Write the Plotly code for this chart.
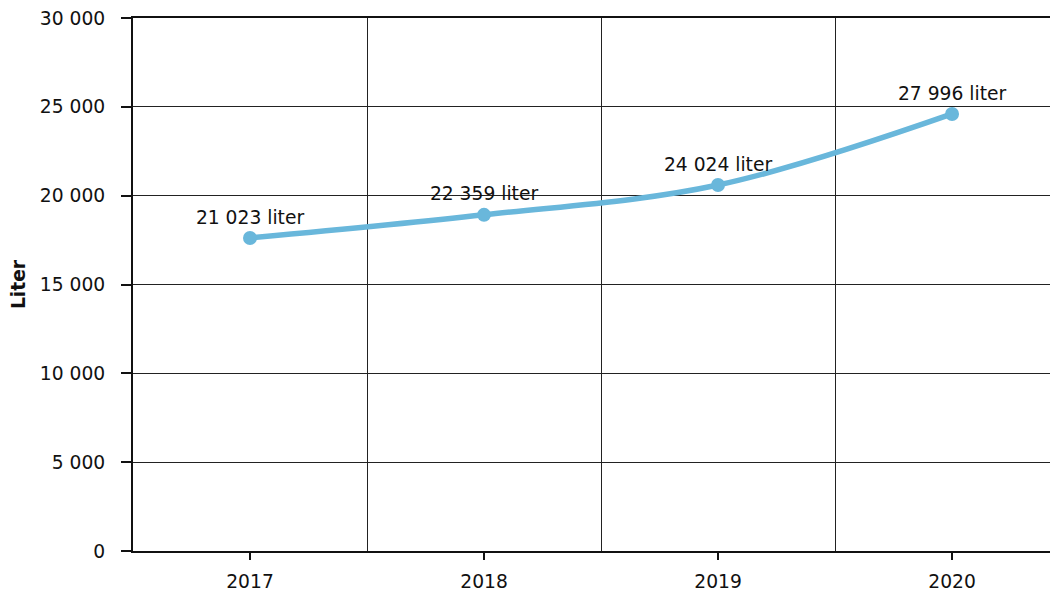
import plotly.graph_objects as go

# values
years = ["2017", "2018", "2019", "2020"]
liters = [17620, 18920, 20600, 24600]
point_labels = ["21 023 liter", "22 359 liter", "24 024 liter", "27 996 liter"]
y_ticks = [0, 5000, 10000, 15000, 20000, 25000, 30000]

line_color = "#69b7db"
font = "DejaVu Sans, Verdana, sans-serif"
fsize = 18.7

fig = go.Figure()
fig.add_trace(go.Scatter(
    x=list(range(len(years))), y=liters,
    mode="lines+markers+text",
    line=dict(color=line_color, width=5.5, shape="spline", smoothing=1.0),
    marker=dict(color=line_color, size=14),
    text=point_labels, textposition="top center",
    textfont=dict(family=font, size=fsize, color="#111111"),
    hoverinfo="none", cliponaxis=False,
))

# page body adds 8px, plot area runs past the right edge of the window
fig.update_layout(
    width=1058, height=587,
    margin=dict(l=125, r=0, t=10, b=44),
    plot_bgcolor="white", paper_bgcolor="white",
    showlegend=False,
    separators=", ",
    font=dict(family=font, size=fsize, color="#111111"),
)

fig.update_xaxes(
    range=[-0.5, 3.487], automargin=False,
    tickmode="array", tickvals=list(range(len(years))), ticktext=years,
    showgrid=False, zeroline=False,
    ticks="outside", ticklen=7, tickwidth=1.5, tickcolor="#111111",
    showline=True, linecolor="#111111", linewidth=2, mirror=True,
    ticklabelstandoff=6,
    minor=dict(tickmode="array", tickvals=[0.5, 1.5, 2.5], showgrid=True,
               gridcolor="#222222", gridwidth=1, ticks=""),
    tickfont=dict(family=font, size=fsize),
)
fig.update_yaxes(
    range=[0, 30000], automargin=False,
    tickmode="array", tickvals=y_ticks, tickformat=",d",
    showgrid=True, gridcolor="#222222", gridwidth=1,
    zeroline=False,
    ticks="outside", ticklen=10, tickwidth=1.5, tickcolor="#111111",
    showline=True, linecolor="#111111", linewidth=2,
    ticklabelstandoff=12, ticklabeloverflow="allow",
    title=dict(text="<b>Liter</b>", font=dict(family=font, size=fsize), standoff=18),
    tickfont=dict(family=font, size=fsize),
)

fig.write_html("out.html")
